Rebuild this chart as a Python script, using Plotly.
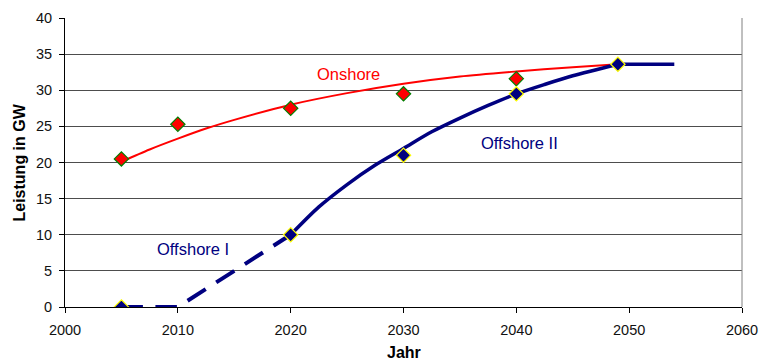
import plotly.graph_objects as go

# Data points (markers)
onshore_years = [2005, 2010, 2020, 2030, 2040]
onshore_values = [20.5, 25.3, 27.5, 29.5, 31.6]
offshore_years = [2005, 2020, 2030, 2040, 2049]
offshore_values = [0, 10, 21, 29.5, 33.6]

# Trend curves
onshore_curve_years = [2005, 2007.5, 2010, 2012.5, 2015, 2020, 2025, 2030, 2035, 2040, 2045, 2049]
onshore_curve_values = [20.1, 21.8, 23.3, 24.7, 25.9, 28.0, 29.6, 30.9, 31.9, 32.6, 33.2, 33.6]

offshore1_years = [2005, 2010, 2020]
offshore1_values = [0, 0, 10]

offshore2_years = [2020, 2022.5, 2025, 2027.5, 2030, 2032.5, 2035, 2037.5, 2040, 2042.5, 2045, 2049]
offshore2_values = [10, 13.85, 16.95, 19.65, 21.95, 24.25, 26.15, 27.9, 29.5, 30.8, 32.0, 33.6]

offshore2_flat_years = [2049, 2054]
offshore2_flat_values = [33.6, 33.6]

x_ticks = [2000, 2010, 2020, 2030, 2040, 2050, 2060]
y_ticks = [0, 5, 10, 15, 20, 25, 30, 35, 40]

FONT = "Arial, Liberation Sans, sans-serif"
NAVY = "#000080"

fig = go.Figure()

fig.add_trace(go.Scatter(x=onshore_curve_years, y=onshore_curve_values, mode="lines",
                         line=dict(color="#ff0000", width=2, shape="spline", smoothing=0.8),
                         hoverinfo="skip"))
fig.add_trace(go.Scatter(x=offshore1_years, y=offshore1_values, mode="lines",
                         line=dict(color=NAVY, width=4, dash="21.5px,12.5px"),
                         hoverinfo="skip"))
fig.add_trace(go.Scatter(x=offshore2_years, y=offshore2_values, mode="lines",
                         line=dict(color=NAVY, width=3.5, shape="spline", smoothing=0.8),
                         hoverinfo="skip"))
fig.add_trace(go.Scatter(x=offshore2_flat_years, y=offshore2_flat_values, mode="lines",
                         line=dict(color=NAVY, width=3.5),
                         hoverinfo="skip"))
fig.add_trace(go.Scatter(x=onshore_years, y=onshore_values, mode="markers",
                         marker=dict(symbol="diamond", size=11, color="#ff0000",
                                     line=dict(color="#008000", width=1.2))))
fig.add_trace(go.Scatter(x=offshore_years, y=offshore_values, mode="markers",
                         marker=dict(symbol="diamond", size=11, color=NAVY,
                                     line=dict(color="#ffff00", width=1.2))))

fig.add_annotation(x=2025.1, y=32.2, text="Onshore", showarrow=False,
                   font=dict(family=FONT, size=16.5, color="#ff0000"))
fig.add_annotation(x=2040.3, y=22.7, text="Offshore II", showarrow=False,
                   font=dict(family=FONT, size=16.5, color=NAVY))
fig.add_annotation(x=2011.3, y=8.0, text="Offshore I", showarrow=False,
                   font=dict(family=FONT, size=16.5, color=NAVY))

# axis titles
fig.add_annotation(x=2030, y=0, yref="paper", yshift=-45, yanchor="middle", xanchor="center",
                   text="<b>Jahr</b>", showarrow=False,
                   font=dict(family=FONT, size=16, color="#000"))
fig.add_annotation(x=0, xref="paper", xshift=-46, xanchor="center", yanchor="middle",
                   y=20, text="<b>Leistung in GW</b>",
                   showarrow=False, textangle=-90,
                   font=dict(family=FONT, size=16, color="#000"))

# right border
fig.add_shape(type="line", xref="paper", yref="paper", x0=1, x1=1, y0=0, y1=1,
              line=dict(color="#808080", width=1))

fig.update_layout(
    width=759, height=362,
    margin=dict(l=65, r=17, t=18, b=55),
    paper_bgcolor="white", plot_bgcolor="white",
    showlegend=False,
    font=dict(family=FONT, size=14.5, color="#111"),
    xaxis=dict(range=[2000, 2060], tickvals=x_ticks, ticktext=[str(v) for v in x_ticks],
               showgrid=False, zeroline=False, showline=True, linecolor="#000", linewidth=1,
               ticks="outside", ticklen=5, tickcolor="#000", automargin=False,
               ticklabelstandoff=5,
               tickfont=dict(family=FONT, size=14.5, color="#111")),
    yaxis=dict(range=[0, 40], tickvals=y_ticks, showgrid=True, gridcolor="#4d4d4d", gridwidth=1,
               zeroline=False, showline=True, linecolor="#000", linewidth=1,
               ticks="outside", ticklen=5, tickcolor="#000", automargin=False,
               ticklabelstandoff=4,
               tickfont=dict(family=FONT, size=14.5, color="#111")),
)

fig.write_html("out.html")
